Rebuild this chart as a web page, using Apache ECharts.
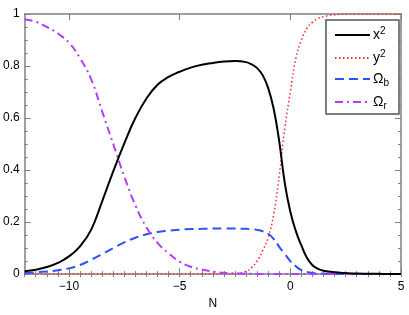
<!DOCTYPE html>
<html><head><meta charset="utf-8">
<script src="https://cdn.jsdelivr.net/npm/echarts@6/dist/echarts.min.js"></script>
<style>html,body{margin:0;padding:0;background:#fff}#c{width:409px;height:315px}</style>
</head><body><div id="c"></div>
<script>
var N = [-12,-11.5,-11,-10.5,-10,-9.5,-9,-8.5,-8,-7.5,-7,-6.5,-6,-5.5,-5,-4.5,-4,-3.5,-3,-2.5,-2,-1.75,-1.5,-1.25,-1,-0.75,-0.5,-0.25,0,0.25,0.5,0.75,1,1.25,1.5,2,2.5,3,4,5];
var x2 = [0.011,0.017,0.027,0.043,0.068,0.107,0.17,0.28,0.395,0.503,0.60,0.675,0.728,0.758,0.778,0.794,0.805,0.812,0.817,0.819,0.815,0.806,0.792,0.765,0.715,0.635,0.51,0.35,0.24,0.165,0.11,0.063,0.034,0.02,0.013,0.007,0.004,0.002,0.001,0.0005];
var y2 = [0,0,0,0,0,0,0,0,0,0,0,0,0,0,0,0,0,0,0.0005,0.002,0.01,0.025,0.05,0.09,0.14,0.23,0.38,0.56,0.70,0.83,0.90,0.945,0.968,0.982,0.99,0.997,1,1,1,1];
var Ob = [0.005,0.007,0.01,0.015,0.022,0.035,0.055,0.077,0.1,0.122,0.14,0.153,0.162,0.167,0.171,0.173,0.174,0.175,0.175,0.175,0.174,0.172,0.17,0.165,0.155,0.135,0.105,0.078,0.05,0.03,0.015,0.008,0.004,0.0025,0.0015,0.0005,0.0002,0,0,0];
var Or = [0.98,0.97,0.95,0.925,0.89,0.83,0.75,0.625,0.50,0.375,0.265,0.18,0.12,0.08,0.048,0.028,0.018,0.01,0.005,0.003,0.0015,0.001,0.0008,0.0006,0.0005,0.0004,0.0003,0.0002,0.0002,0.0001,0,0,0,0,0,0,0,0,0,0];
var xMajor = [-10,-5,0,5];
var seriesNames = ['x2','y2','Ob','Or'];

function pairs(ys){ return N.map(function(n,i){ return [n, ys[i]]; }); }
var font = 'Liberation Sans, Arial, sans-serif';
var axisCol = '#7f7f7f';
function fmtX(v){ return v < 0 ? '\u2212' + (-v) : String(v); }

var chart = echarts.init(document.getElementById('c'), null, {renderer:'canvas'});
var baseX = {type:'value', min:-12, max:5, gridIndex:0};
chart.setOption({
  animation:false,
  textStyle:{fontFamily:font},
  grid:{left:22, right:8, top:14, bottom:36},
  legend:{
    orient:'vertical', right:10, top:20, itemWidth:35, itemHeight:12, itemGap:7,
    padding:[6,10,3,8], borderColor:'#555', borderWidth:1.5, backgroundColor:'#fff',
    data:seriesNames,
    itemStyle:{opacity:0},
    formatter:function(n){
      if(n==='x2') return '{m|x}{sup|2}';
      if(n==='y2') return '{m|y}{sup|2}';
      if(n==='Ob') return '{m|\u03A9}{sub|b}';
      return '{m|\u03A9}{sub|r}';
    },
    textStyle:{fontFamily:font, color:'#000', fontSize:14, padding:[0,0,0,-2],
      rich:{m:{fontSize:14, fontFamily:font}, sup:{fontSize:10, verticalAlign:'top', padding:[0,0,8,0], fontFamily:font}, sub:{fontSize:10, verticalAlign:'bottom', padding:[8,0,0,0], fontFamily:font}}}
  },
  xAxis:[
    Object.assign({}, baseX, {position:'bottom', name:'N', nameLocation:'middle', nameGap:23,
      nameTextStyle:{fontSize:12, color:'#000', fontFamily:font},
      axisLine:{show:true, onZero:false, lineStyle:{color:axisCol, width:1.5}},
      axisTick:{show:true, inside:true, length:6, customValues:xMajor, lineStyle:{color:axisCol, width:1}},
      axisLabel:{show:true, customValues:xMajor, formatter:fmtX, color:'#000', fontSize:12, margin:7, fontFamily:font},
      splitLine:{show:false}}),
    Object.assign({}, baseX, {position:'bottom', interval:0.5,
      axisLine:{show:false}, axisTick:{show:true, inside:true, length:3, lineStyle:{color:axisCol}},
      axisLabel:{show:false}, splitLine:{show:false}}),
    Object.assign({}, baseX, {position:'top',
      axisLine:{show:true, onZero:false, lineStyle:{color:axisCol, width:1.5}},
      axisTick:{show:true, inside:true, length:6, customValues:xMajor, lineStyle:{color:axisCol}},
      axisLabel:{show:false}, splitLine:{show:false}}),
    Object.assign({}, baseX, {position:'top', interval:0.5,
      axisLine:{show:false}, axisTick:{show:true, inside:true, length:3, lineStyle:{color:axisCol}},
      axisLabel:{show:false}, splitLine:{show:false}})
  ],
  yAxis:[
    {type:'value', min:0, max:1, interval:0.2, position:'left',
      axisLine:{show:true, onZero:false, lineStyle:{color:axisCol, width:1.5}},
      axisTick:{show:true, inside:true, length:6, lineStyle:{color:axisCol}},
      minorTick:{show:true, splitNumber:4, length:3, lineStyle:{color:axisCol}},
      axisLabel:{color:'#000', fontSize:12, margin:5, fontFamily:font},
      splitLine:{show:false}},
    {type:'value', min:0, max:1, interval:0.2, position:'right',
      axisLine:{show:true, onZero:false, lineStyle:{color:axisCol, width:1.5}},
      axisTick:{show:true, inside:true, length:6, lineStyle:{color:axisCol}},
      minorTick:{show:true, splitNumber:4, length:3, lineStyle:{color:axisCol}},
      axisLabel:{show:false}, splitLine:{show:false}}
  ],
  series:[
    {name:'x2', type:'line', data:pairs(x2), showSymbol:false, symbol:'none', smooth:0.45, z:4,
      lineStyle:{color:'#000', width:2, type:'solid'}, itemStyle:{color:'#000'}},
    {name:'y2', type:'line', data:pairs(y2), showSymbol:false, symbol:'none', smooth:0.45, z:3,
      lineStyle:{color:'#ff2a2a', width:1.5, type:[1.5,2.5]}, itemStyle:{color:'#ff2a2a'}},
    {name:'Ob', type:'line', data:pairs(Ob), showSymbol:false, symbol:'none', smooth:0.45, z:3,
      lineStyle:{color:'#2a52ff', width:2, type:[9,5]}, itemStyle:{color:'#2a52ff'}},
    {name:'Or', type:'line', data:pairs(Or), showSymbol:false, symbol:'none', smooth:0.45, z:3,
      lineStyle:{color:'#b43cff', width:2, type:[8,4,2,4]}, itemStyle:{color:'#b43cff'}}
  ]
});
</script></body></html>
